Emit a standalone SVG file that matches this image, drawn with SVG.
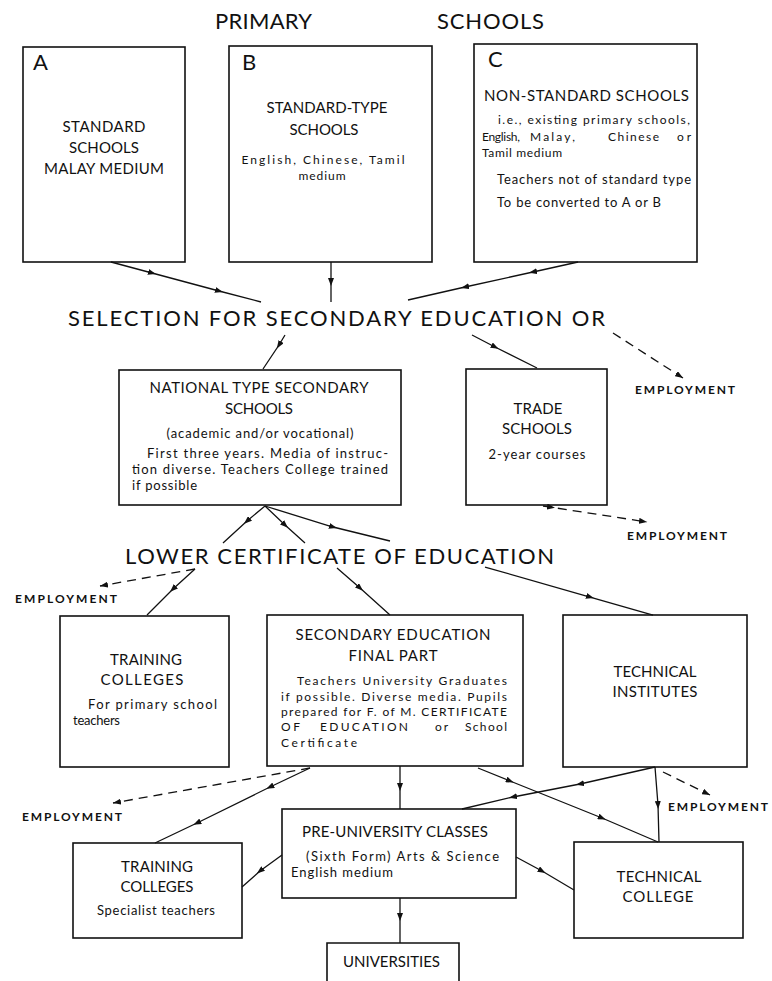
<svg xmlns="http://www.w3.org/2000/svg" width="772" height="981" viewBox="0 0 772 981">
<defs>
<marker id="ah" viewBox="0 0 8 6" refX="4" refY="3" markerWidth="8" markerHeight="6" markerUnits="userSpaceOnUse" orient="auto"><path d="M0,0 L8,3 L0,6 z" fill="#111"/></marker>
<marker id="ae" viewBox="0 0 8 6" refX="8" refY="3" markerWidth="8" markerHeight="6" markerUnits="userSpaceOnUse" orient="auto"><path d="M0,0 L8,3 L0,6 z" fill="#111"/></marker>
</defs>
<style>
.box{fill:#fff;stroke:#111;stroke-width:1.6}
.ln{fill:none;stroke:#111;stroke-width:1.3;marker-mid:url(#ah)}
.ds{fill:none;stroke:#111;stroke-width:1.3;stroke-dasharray:9,6;marker-end:url(#ae)}
text{font-family:Lato,"Liberation Sans",sans-serif;fill:#111}
.big{font-size:22px}
.ttl{font-size:15px}
.bd{font-size:13px}
.sm{font-size:12px}
.c{text-anchor:middle}
.emp{font-size:12px;font-weight:bold}
</style>
<rect width="772" height="981" fill="#fff"/>
<g id="title">
<text class="big" x="215" y="29" textLength="97">PRIMARY</text>
<text class="big" x="437" y="29" textLength="107">SCHOOLS</text>
</g>
<g id="nodeA">
<rect class="box" x="23" y="47" width="162" height="215"/>
<text class="big" x="33" y="70">A</text>
<text class="ttl c" x="104" y="132" textLength="83">STANDARD</text>
<text class="ttl c" x="104" y="153" textLength="70">SCHOOLS</text>
<text class="ttl c" x="104" y="174" textLength="120">MALAY MEDIUM</text>
</g>
<g id="nodeB">
<rect class="box" x="229" y="46" width="203" height="216"/>
<text class="big" x="242" y="70">B</text>
<text class="ttl c" x="327" y="113" textLength="121">STANDARD-TYPE</text>
<text class="ttl c" x="324" y="135" textLength="69">SCHOOLS</text>
<text class="sm c" x="323" y="164" textLength="163">English, Chinese, Tamil</text>
<text class="sm c" x="322" y="180" textLength="47">medium</text>
</g>
<g id="nodeC">
<rect class="box" x="474" y="44" width="223" height="218"/>
<text class="big" x="488" y="67">C</text>
<text class="ttl" x="484" y="101" textLength="205">NON-STANDARD SCHOOLS</text>
<text class="sm" x="498" y="124" textLength="192">i.e., existing primary schools,</text>
<text class="sm" x="482" y="141" textLength="38">English,</text>
<text class="sm" x="530" y="141" textLength="45">Malay,</text>
<text class="sm" x="608" y="141" textLength="51">Chinese</text>
<text class="sm" x="677" y="141" textLength="14">or</text>
<text class="sm" x="482" y="157" textLength="80">Tamil  medium</text>
<text class="bd" x="497" y="184" textLength="194">Teachers not of standard type</text>
<text class="bd" x="497" y="207" textLength="164">To be converted to A or B</text>
</g>
<g id="selection">
<text class="big" x="68" y="326" textLength="537">SELECTION FOR SECONDARY EDUCATION OR</text>
</g>
<g id="national">
<rect class="box" x="119" y="370" width="282" height="135"/>
<text class="ttl c" x="259" y="393" textLength="219">NATIONAL TYPE SECONDARY</text>
<text class="ttl c" x="259" y="414" textLength="68">SCHOOLS</text>
<text class="bd c" x="260" y="438" textLength="187">(academic and/or vocational)</text>
<text class="bd" x="147" y="458" textLength="241">First three years. Media of instruc-</text>
<text class="bd" x="132" y="474" textLength="256">tion diverse. Teachers College trained</text>
<text class="bd" x="132" y="490" textLength="65">if possible</text>
</g>
<g id="trade">
<rect class="box" x="466" y="369" width="141" height="136"/>
<text class="ttl c" x="538" y="414" textLength="49">TRADE</text>
<text class="ttl c" x="537" y="434" textLength="70">SCHOOLS</text>
<text class="bd c" x="537" y="459" textLength="97">2-year courses</text>
</g>
<g id="emp1"><text class="emp" x="635" y="394" textLength="100">EMPLOYMENT</text></g>
<g id="emp2"><text class="emp" x="627" y="540" textLength="100">EMPLOYMENT</text></g>
<g id="lce">
<text class="big" x="125" y="564" textLength="429">LOWER CERTIFICATE OF EDUCATION</text>
</g>
<g id="emp3"><text class="emp" x="15" y="603" textLength="102">EMPLOYMENT</text></g>
<g id="training1">
<rect class="box" x="60" y="616" width="169" height="151"/>
<text class="ttl c" x="146" y="665" textLength="72">TRAINING</text>
<text class="ttl c" x="142" y="685" textLength="83">COLLEGES</text>
<text class="bd" x="88" y="709" textLength="129">For primary school</text>
<text class="bd" x="73" y="725" textLength="47">teachers</text>
</g>
<g id="secondary">
<rect class="box" x="267" y="615" width="256" height="151"/>
<text class="ttl c" x="393" y="640" textLength="195">SECONDARY EDUCATION</text>
<text class="ttl c" x="393" y="661" textLength="89">FINAL PART</text>
<text class="sm" x="297" y="685" textLength="210">Teachers University Graduates</text>
<text class="sm" x="281" y="701" textLength="226">if possible. Diverse media. Pupils</text>
<text class="sm" x="281" y="716" textLength="226">prepared for F. of M. CERTIFICATE</text>
<text class="sm" x="281" y="731" textLength="19">OF</text>
<text class="sm" x="320" y="731" textLength="88">EDUCATION</text>
<text class="sm" x="435" y="731" textLength="13">or</text>
<text class="sm" x="465" y="731" textLength="42">School</text>
<text class="sm" x="281" y="747" textLength="76">Certificate</text>
</g>
<g id="techinst">
<rect class="box" x="563" y="615" width="184" height="152"/>
<text class="ttl c" x="655" y="677" textLength="83">TECHNICAL</text>
<text class="ttl c" x="655" y="697" textLength="85">INSTITUTES</text>
</g>
<g id="emp4"><text class="emp" x="22" y="821" textLength="100">EMPLOYMENT</text></g>
<g id="emp5"><text class="emp" x="668" y="811" textLength="100">EMPLOYMENT</text></g>
<g id="preuniv">
<rect class="box" x="282" y="809" width="234" height="89"/>
<text class="ttl" x="302" y="837" textLength="186">PRE-UNIVERSITY CLASSES</text>
<text class="bd" x="306" y="861" textLength="193">(Sixth Form) Arts &amp; Science</text>
<text class="bd" x="291" y="877" textLength="102">English medium</text>
</g>
<g id="training2">
<rect class="box" x="73" y="843" width="169" height="95"/>
<text class="ttl c" x="157" y="872" textLength="72">TRAINING</text>
<text class="ttl c" x="157" y="892" textLength="73">COLLEGES</text>
<text class="bd c" x="156" y="915" textLength="118">Specialist teachers</text>
</g>
<g id="techcollege">
<rect class="box" x="574" y="842" width="169" height="96"/>
<text class="ttl c" x="659" y="882" textLength="85">TECHNICAL</text>
<text class="ttl c" x="658" y="902" textLength="71">COLLEGE</text>
</g>
<g id="universities">
<path d="M327,981 L327,943 L459,943 L459,981" fill="none" stroke="#111" stroke-width="1.6"/>
<text class="ttl" x="343" y="967" textLength="97">UNIVERSITIES</text>
</g>
<g id="connectors">
<path class="ln" d="M111,262 L152,273 L219,291 L261,302"/>
<path class="ln" d="M331,262 L331,282 L331,302"/>
<path class="ln" d="M578,262 L533,272 L465,287 L408,300"/>
<path class="ln" d="M285,335 L279,345 L263,369"/>
<path class="ln" d="M472,335 L495,347 L537,368"/>
<path class="ds" d="M613,333 L683,378"/>
<path class="ln" d="M265,506 L247,521 L223,543"/>
<path class="ln" d="M265,506 L285,525 L305,543"/>
<path class="ln" d="M265,506 L333,527 L390,541"/>
<path class="ds" d="M543,506 L551,507.2 L647,522" style="marker-mid:url(#ah)"/>
<path class="ds" d="M195,569 L100,586"/>
<path class="ln" d="M195,569 L173,589 L147,615"/>
<path class="ln" d="M337,568 L360,588 L390,615"/>
<path class="ln" d="M485,567 L590,597 L653,615"/>
<path class="ds" d="M310,768 L113,803"/>
<path class="ln" d="M310,768 L270,787 L197,823 L155,843"/>
<path class="ln" d="M400,766 L400,787 L400,809"/>
<path class="ln" d="M478,768 L510,781 L602,818 L658,842"/>
<path class="ln" d="M655,767 L580,784 L513,797 L462,809"/>
<path class="ln" d="M655,767 L658,805 L659,842"/>
<path class="ds" d="M663,772 L710,795"/>
<path class="ln" d="M282,855 L260,871 L242,887"/>
<path class="ln" d="M516,857 L542,871 L574,890"/>
<path class="ln" d="M400,898 L400,917 L400,943"/>
</g>
</svg>
